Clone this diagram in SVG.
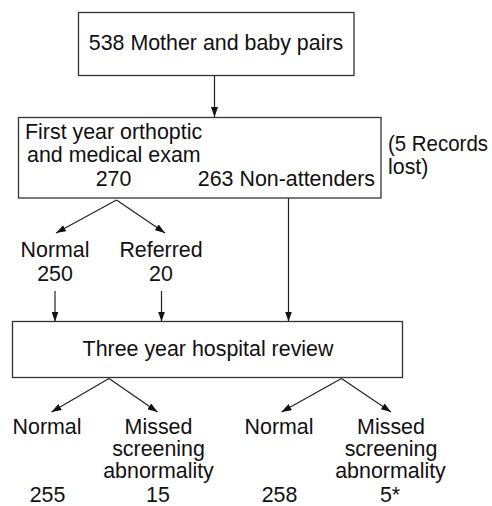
<svg xmlns="http://www.w3.org/2000/svg" width="492" height="506" viewBox="0 0 492 506">
<style>
  text { font-family: "Liberation Sans", Arial, sans-serif; font-size: 21.4px; fill: #111; }
  .m { text-anchor: middle; }
  .e { text-anchor: end; }
  .box { fill: #fff; stroke: #333; stroke-width: 1.3; }
  .ln { fill: none; stroke: #222; stroke-width: 1.2; marker-end: url(#ah); }
</style>
<defs>
  <marker id="ah" markerUnits="userSpaceOnUse" markerWidth="10" markerHeight="7" refX="10" refY="3.5" orient="auto">
    <path d="M0,0 L10,3.5 L0,7 z" fill="#111"/>
  </marker>
</defs>
<rect width="492" height="506" fill="#fff"/>
<g id="connectors">
  <line class="ln" x1="214.5" y1="75.5" x2="214.5" y2="117"/>
  <line class="ln" x1="116.5" y1="200" x2="56" y2="233"/>
  <line class="ln" x1="116.5" y1="200" x2="165" y2="233"/>
  <line class="ln" x1="288.5" y1="198" x2="288.5" y2="321.5"/>
  <line class="ln" x1="55" y1="291" x2="55" y2="321.5"/>
  <line class="ln" x1="161.5" y1="291" x2="161.5" y2="321.5"/>
  <line class="ln" x1="109" y1="378.5" x2="51.5" y2="412"/>
  <line class="ln" x1="109" y1="378.5" x2="157.5" y2="412"/>
  <line class="ln" x1="341.5" y1="378.5" x2="281.5" y2="412"/>
  <line class="ln" x1="341.5" y1="378.5" x2="391" y2="412"/>
</g>
<g id="mother-baby-pairs">
  <rect class="box" x="78.5" y="12.5" width="275.5" height="63"/>
  <text class="m" x="216" y="50">538 Mother and baby pairs</text>
</g>
<g id="first-year-exam">
  <rect class="box" x="18.5" y="117.5" width="362.5" height="80.5"/>
  <text x="25" y="139">First year orthoptic</text>
  <text x="27" y="162">and medical exam</text>
  <text class="m" x="113.5" y="186">270</text>
  <text class="e" x="375" y="186">263 Non-attenders</text>
</g>
<g id="records-lost">
  <text x="388" y="151" textLength="100" lengthAdjust="spacingAndGlyphs">(5 Records</text>
  <text x="388" y="174">lost)</text>
</g>
<g id="normal-250">
  <text class="m" x="55" y="257">Normal</text>
  <text class="m" x="55" y="281">250</text>
</g>
<g id="referred-20">
  <text class="m" x="161" y="257">Referred</text>
  <text class="m" x="161" y="281">20</text>
</g>
<g id="hospital-review">
  <rect class="box" x="12.5" y="321.5" width="390" height="56"/>
  <text class="m" x="208" y="356">Three year hospital review</text>
</g>
<g id="normal-255">
  <text class="m" x="47" y="434">Normal</text>
  <text class="m" x="47.5" y="501.5">255</text>
</g>
<g id="missed-15">
  <text class="m" x="158.5" y="434">Missed</text>
  <text class="m" x="158.5" y="456">screening</text>
  <text class="m" x="158.5" y="478">abnormality</text>
  <text class="m" x="158" y="501.5">15</text>
</g>
<g id="normal-258">
  <text class="m" x="279" y="434">Normal</text>
  <text class="m" x="279.5" y="501.5">258</text>
</g>
<g id="missed-5">
  <text class="m" x="391" y="434">Missed</text>
  <text class="m" x="391" y="456">screening</text>
  <text class="m" x="390.5" y="478">abnormality</text>
  <text class="m" x="390" y="501.5">5*</text>
</g>
</svg>
